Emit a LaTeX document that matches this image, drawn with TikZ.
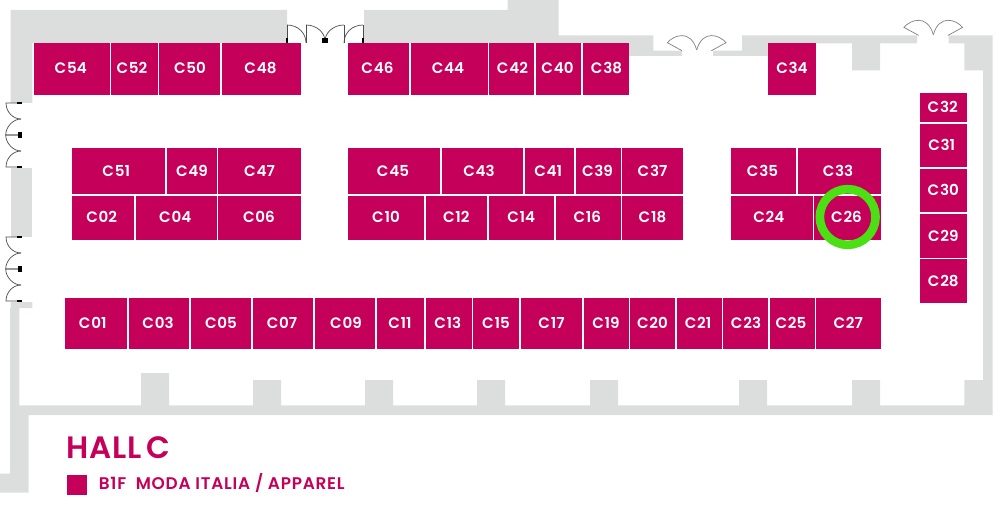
\documentclass[tikz,border=0pt]{standalone}
\usepackage{fontspec}
\setmainfont{Poppins}[BoldFont={Poppins SemiBold}]
\definecolor{boothred}{HTML}{C5005A}
\definecolor{wallgray}{HTML}{DCDDDD}
\definecolor{ringgreen}{HTML}{4AE014}
\tikzset{
	booth/.style={fill=boothred},
	boothlabel/.style={text=white,font=\bfseries\fontsize{8.6}{10}\selectfont,inner sep=0pt,text height=6.1pt,text depth=0pt},
	wall/.style={fill=wallgray},
	blackdoor/.style={draw=black!70,line width=0.4pt},
	graydoor/.style={draw=black!50,line width=0.4pt},
}
\begin{document}
\begin{tikzpicture}[x=0.02cm,y=-0.02cm]
	\useasboundingbox (0,0) rectangle (1000,510);
	% walls
	\path[wall] (10.7,10) -- (287,10) -- (287,43.5) -- (32.3,43.5) -- (32.3,103) -- (10.7,103) -- cycle;
	\path[wall] (10.7,168) -- (32.3,168) -- (32.3,237) -- (10.7,237) -- cycle;
	\path[wall] (10.7,302) -- (32.3,302) -- (32.3,308) -- (19.3,308) -- (19.3,405.3)
		-- (141,405.3) -- (141,373) -- (169,373) -- (169,405.3)
		-- (253,405.3) -- (253,380) -- (281,380) -- (281,405.3)
		-- (365,405.3) -- (365,380) -- (393,380) -- (393,405.3)
		-- (477,405.3) -- (477,380) -- (505,380) -- (505,405.3)
		-- (590,405.3) -- (590,380) -- (618,380) -- (618,405.3)
		-- (739,405.3) -- (739,380) -- (767,380) -- (767,405.3)
		-- (852,405.3) -- (852,380) -- (880,380) -- (880,405.3)
		-- (964.3,405.3) -- (964.3,380) -- (983,380) -- (983,70.3) -- (964.3,70.3) -- (964.3,43.3)
		-- (948.7,43.3) -- (948.7,35.3) -- (992.7,35.3) -- (992.7,415) -- (28.5,415) -- (28.5,492.7)
		-- (0,492.7) -- (0,473.5) -- (10,473.5) -- (10,308) -- (10.7,308) -- cycle;
	\path[wall] (364,10) -- (507.7,10) -- (507.7,0) -- (558.7,0) -- (558.7,35.3) -- (653.3,35.3) -- (653.3,50.7)
		-- (682,50.7) -- (682,56) -- (629,56) -- (629,43.5) -- (364,43.5) -- cycle;
	\path[wall] (713,56) -- (713,50.7) -- (742,50.7) -- (742,35.3) -- (917,35.3) -- (917,43.3) -- (880,43.3)
		-- (880,70.3) -- (852,70.3) -- (852,43.3) -- (768,43.3) -- (768,56) -- cycle;
	% doors
	\foreach \s in {1,-1}{
		\begin{scope}[shift={(325,0)},xscale=\s]
			\draw[blackdoor] (-38,25) .. controls (-27,25) and (-19,33) .. (-19,43);
			\draw[blackdoor] (-19,25) .. controls (-8,25) and (0,33) .. (0,41);
			\draw[blackdoor] (-38,25) -- (-38,43);
			\draw[blackdoor] (-19,25) -- (-19,43);
			\draw[black,line width=0.9pt] (-38,38) -- (-38,43);
		\end{scope}
		\foreach \dy in {135,269}{
			\begin{scope}[shift={(0,\dy)},yscale=\s]
				\draw[blackdoor] (21.5,-32) -- (6,-32) .. controls (6,-23) and (13,-16) .. (21,-16);
				\draw[blackdoor] (21,-16) .. controls (13,-16) and (5.7,-8) .. (5.7,0) -- (21,0);
				\draw[black,line width=0.9pt] (17,-32) -- (21.5,-32);
			\end{scope}
		}
		\foreach \cx/\cy in {696.7/50,933.3/34.7}{
			\begin{scope}[shift={(\cx,\cy)},xscale=\s]
				\draw[graydoor] (-14.7,0.7) -- (-29.3,-7.3) .. controls (-23,-15) and (-6,-21) .. (0,0);
			\end{scope}
		}
	}
	\fill[black] (322,38.5) rectangle (328,43.5);
	\fill[black] (17.5,132) rectangle (21.5,138);
	\fill[black] (17.5,266) rectangle (21.5,272);
	% booths, top row
	\foreach \num/\xa/\xb/\dx in {54/33.5/110/-1,52/111/158/-2.5,50/159/220/0.5,48/222/301/-1,46/348/409/-1,44/411/488/-1.5,42/489/534/1,40/536/581/-1,38/583/629/0.5,34/768/816/0}{
		\fill[booth] (\xa,43.5) rectangle (\xb,95) node[boothlabel,midway,xshift=\dx*0.02cm,yshift=0.02cm] (c\num) {C\kern0.05em\num};
	}
	% second row
	\foreach \num/\xa/\xb/\dx in {51/71.5/165/-2,49/167/217/0,47/218/301/0,45/348/440/-1,43/442/523/-3.5,41/524.5/574/-1,39/576/621/-1,37/622/683/0,35/731/796/-1,33/798/881/-1.5}{
		\fill[booth] (\xa,148) rectangle (\xb,194) node[boothlabel,midway,xshift=\dx*0.02cm] (c\num) {C\kern0.05em\num};
	}
	% third row
	\foreach \num/\xa/\xb/\dx in {02/71.5/134/-1,04/135.5/217/-1,06/218/301/-0.5,10/348/424/0,12/425.5/487/0,14/488.5/554/0,16/555.5/621/-1,18/622/683/0,24/731/812.5/-3,26/814/881/-1}{
		\fill[booth] (\xa,195.5) rectangle (\xb,239.5) node[boothlabel,midway,xshift=\dx*0.02cm] (c\num) {C\kern0.05em\num};
	}
	% bottom row
	\foreach \num/\xa/\xb/\dx in {01/64.5/127/-3,03/129/189/-1,05/191/251/0,07/253/313/-1,09/315/375/1,11/377/424/-0.5,13/425.5/472/-1,15/473/519/0,17/521/582/0,19/583.5/628.5/0,20/630/675/0,21/676.5/721.5/-1,23/723/768/0.5,25/769.5/814.5/-1,27/816/880.5/0}{
		\fill[booth] (\xa,297.5) rectangle (\xb,349) node[boothlabel,midway,xshift=\dx*0.02cm] (c\num) {C\kern0.05em\num};
	}
	% right column
	\foreach \num/\ya/\yb/\dx in {32/93/122/-0.5,31/123.5/167/-1.5,30/168.5/212/0,29/213.5/258/0,28/259/303/0}{
		\fill[booth] (919.5,\ya) rectangle (967,\yb) node[boothlabel,midway,xshift=\dx*0.02cm] (c\num) {C\kern0.05em\num};
	}
	% marker
	\node[circle,draw=ringgreen,line width=4.9pt,minimum size=31.3mm*0.356,inner sep=0pt] (ring) at (847.7,217) {};
	% legend
	\node[anchor=base west,text=boothred,font=\bfseries\fontsize{17.6}{20}\selectfont,inner sep=0pt] (hall) at (66,458.5) {\addfontfeature{LetterSpace=3}HALL\kern-0.12em\ C};
	\fill[booth] (66.5,474.5) rectangle (87,495);
	\node[anchor=base west,text=boothred,font=\bfseries\fontsize{9.6}{11}\selectfont,inner sep=0pt] (floor) at (98.5,489.5) {\addfontfeature{LetterSpace=4.5}B1F\ \ MODA ITALIA / APPAREL};
\end{tikzpicture}
\end{document}
